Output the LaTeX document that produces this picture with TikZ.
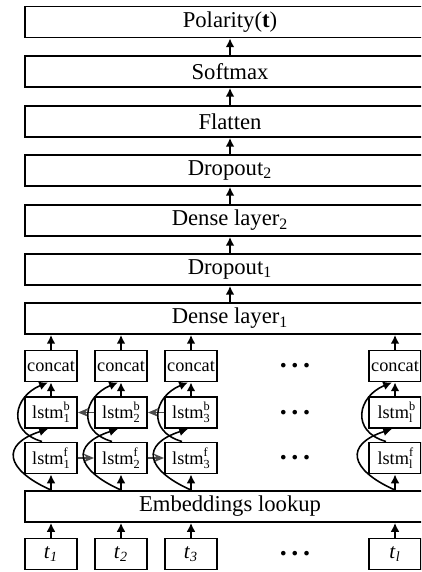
\documentclass[tikz,border=0pt]{standalone}
\usepackage{fontspec}
\setmainfont{Liberation Serif}
\usetikzlibrary{arrows.meta, positioning}
\newcommand{\lstmcell}[2]{lstm\rlap{\raisebox{0.42em}{\fontsize{7}{7}\selectfont #1}}\raisebox{-0.22em}{\fontsize{7}{7}\selectfont #2}}
\newcommand{\tok}[1]{\textit{t}\textsubscript{\textit{#1}}}

\begin{document}
\begin{tikzpicture}[
        layer/.style={rectangle, draw, line width=1.1pt, minimum width=8.2cm, minimum height=0.62cm, inner sep=0pt, font=\fontsize{12.9}{15}\selectfont},
        cell/.style={rectangle, draw, line width=1.1pt, minimum width=1.04cm, minimum height=0.62cm, inner sep=0pt, font=\fontsize{10.4}{12}\selectfont},
        token/.style={cell, font=\fontsize{12}{14}\selectfont},
        more/.style={font=\fontsize{16}{18}\selectfont\bfseries},
        flow/.style={-{Latex[length=5pt,width=5pt]}, line width=0.9pt},
        recur/.style={-{Stealth[length=6pt,width=5pt]}, line width=0.9pt, black!70},
        skip/.style={-{Latex[length=5pt,width=5pt]}, line width=0.9pt}
    ]
    \useasboundingbox (0,0) rectangle (8.42,11.44);
    \clip (0,0) rectangle (8.42,11.44);

    % layer stack
    \node[layer] (pol) at (4.6, 11.0) {Polarity(\textbf{t})};
    \node[layer] (soft) at (4.6, 10.01) {Softmax};
    \node[layer] (flat) at (4.6, 9.01) {Flatten};
    \node[layer] (do2) at (4.6, 8.03) {Dropout\textsubscript{2}};
    \node[layer] (d2) at (4.6, 7.03) {Dense layer\textsubscript{2}};
    \node[layer] (do1) at (4.6, 6.05) {Dropout\textsubscript{1}};
    \node[layer] (d1) at (4.6, 5.07) {Dense layer\textsubscript{1}};
    \node[layer] (emb) at (4.6, 1.31) {Embeddings lookup};

    % bi-lstm columns
    \node[cell] (c1) at (1.02, 4.12) {concat};
    \node[cell] (c2) at (2.42, 4.12) {concat};
    \node[cell] (c3) at (3.82, 4.12) {concat};
    \node[cell] (cl) at (7.9, 4.12) {concat};
    \node[cell] (b1) at (1.02, 3.19) {\lstmcell{b}{1}};
    \node[cell] (b2) at (2.42, 3.19) {\lstmcell{b}{2}};
    \node[cell] (b3) at (3.82, 3.19) {\lstmcell{b}{3}};
    \node[cell] (bl) at (7.9, 3.19) {\lstmcell{b}{l}};
    \node[cell] (f1) at (1.02, 2.28) {\lstmcell{f}{1}};
    \node[cell] (f2) at (2.42, 2.28) {\lstmcell{f}{2}};
    \node[cell] (f3) at (3.82, 2.28) {\lstmcell{f}{3}};
    \node[cell] (fl) at (7.9, 2.28) {\lstmcell{f}{l}};
    \node[token] (t1) at (1.02, 0.36) {\tok{1}};
    \node[token] (t2) at (2.42, 0.36) {\tok{2}};
    \node[token] (t3) at (3.82, 0.36) {\tok{3}};
    \node[token] (tl) at (7.9, 0.36) {\tok{l}};

    \node[more] (mc) at (5.9, 4.12) {.\,.\,.};
    \node[more] (mb) at (5.9, 3.19) {.\,.\,.};
    \node[more] (mf) at (5.9, 2.28) {.\,.\,.};
    \node[more] (mt) at (5.9, 0.36) {.\,.\,.};

    % stack arrows
    \draw[flow] (soft) -- (pol);
    \draw[flow] (flat) -- (soft);
    \draw[flow] (do2) -- (flat);
    \draw[flow] (d2) -- (do2);
    \draw[flow] (do1) -- (d2);
    \draw[flow] (d1) -- (do1);

    % column arrows
    \draw[flow] (c1) -- (c1 |- d1.south);
    \draw[flow] (c2) -- (c2 |- d1.south);
    \draw[flow] (c3) -- (c3 |- d1.south);
    \draw[flow] (cl) -- (cl |- d1.south);
    \draw[flow] (b1) -- (c1);
    \draw[flow] (b2) -- (c2);
    \draw[flow] (b3) -- (c3);
    \draw[flow] (bl) -- (cl);
    \draw[flow] (f1 |- emb.north) -- (f1);
    \draw[flow] (f2 |- emb.north) -- (f2);
    \draw[flow] (f3 |- emb.north) -- (f3);
    \draw[flow] (fl |- emb.north) -- (fl);
    \draw[flow] (t1) -- (t1 |- emb.south);
    \draw[flow] (t2) -- (t2 |- emb.south);
    \draw[flow] (t3) -- (t3 |- emb.south);
    \draw[flow] (tl) -- (tl |- emb.south);

    % recurrent links
    \draw[recur] (f1) -- (f2);
    \draw[recur] (f2) -- (f3);
    \draw[recur] (b2) -- (b1);
    \draw[recur] (b3) -- (b2);

    % skip curves
    \draw[skip] (f1 |- emb.north) to[out=156, in=198, looseness=2.1] ([xshift=-0.06cm]b1.south);
    \draw[skip] (f2 |- emb.north) to[out=156, in=198, looseness=2.1] ([xshift=-0.06cm]b2.south);
    \draw[skip] (f3 |- emb.north) to[out=156, in=198, looseness=2.1] ([xshift=-0.06cm]b3.south);
    \draw[skip] (fl |- emb.north) to[out=156, in=198, looseness=2.1] ([xshift=-0.06cm]bl.south);
    \draw[skip] ([xshift=-0.18cm]f1.north) to[out=164, in=202, looseness=1.6] ([xshift=-0.06cm]c1.south);
    \draw[skip] ([xshift=-0.18cm]f2.north) to[out=164, in=202, looseness=1.6] ([xshift=-0.06cm]c2.south);
    \draw[skip] ([xshift=-0.18cm]f3.north) to[out=164, in=202, looseness=1.6] ([xshift=-0.06cm]c3.south);
    \draw[skip] ([xshift=-0.18cm]fl.north) to[out=164, in=202, looseness=1.6] ([xshift=-0.06cm]cl.south);
\end{tikzpicture}
\end{document}
